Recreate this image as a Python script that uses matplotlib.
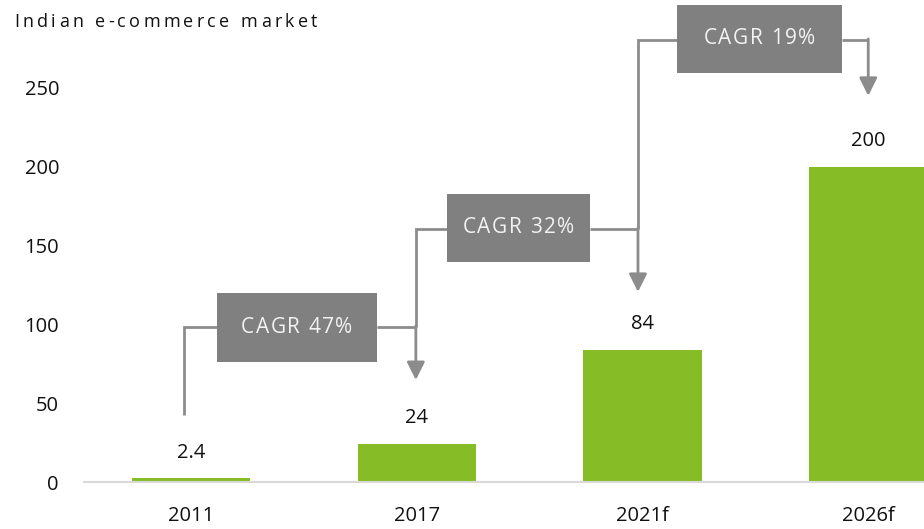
import matplotlib
matplotlib.use("Agg")
import matplotlib.pyplot as plt
from matplotlib.patches import Rectangle
from matplotlib.textpath import TextToPath
from matplotlib.font_manager import FontProperties

plt.rcParams['font.family'] = ['Open Sans', 'DejaVu Sans']

# ---- data ----
categories = ["2011", "2017", "2021f", "2026f"]
values = [2.4, 24, 84, 200]
value_labels = ["2.4", "24", "84", "200"]
cagr_labels = ["CAGR 47%", "CAGR 32%", "CAGR 19%"]
y_ticks = [0, 50, 100, 150, 200, 250]
title = "Indian e-commerce market"

# ---- styling / layout ----
GREEN = "#86bc25"
BOX = "#808080"
LINE = "#8c8c8c"
W, H = 924, 529

fig = plt.figure(figsize=(W / 100, H / 100), dpi=100)
ax = fig.add_axes([84 / W, (H - 482) / H, (W - 84) / W, 482 / H])
ax.set_xlim(-0.474, 3.247)
ax.set_ylim(0, 305.8)

t2p = TextToPath()


def width_pt(s, prop):
    w, _, _ = t2p.get_text_width_height_descent(s + "x", prop, ismath=False)
    w0, _, _ = t2p.get_text_width_height_descent("x", prop, ismath=False)
    return w - w0


def spaced_offsets(s, prop, spacing_pt):
    xs_ = [width_pt(s[:i], prop) + i * spacing_pt for i in range(len(s))]
    total = width_pt(s, prop) + (len(s) - 1) * spacing_pt
    return xs_, total


xs = list(range(len(categories)))
ax.bar(xs, values, width=0.523, color=GREEN, zorder=2)

for x, v, lab in zip(xs, values, value_labels):
    ax.annotate(lab, xy=(x, v), xytext=(0, 18.5), textcoords="offset points",
                ha="center", va="center", fontsize=14.5, color="#111111")

for s in ["top", "right", "left"]:
    ax.spines[s].set_visible(False)
ax.spines["bottom"].set_color("#d9d9d9")
ax.spines["bottom"].set_linewidth(1.5)
ax.set_xticks(xs)
ax.set_xticklabels(categories, fontsize=14.5, color="#111111")
ax.set_yticks(y_ticks)
ax.set_yticklabels([str(t) for t in y_ticks], fontsize=14.5, color="#111111")
ax.tick_params(axis="x", length=0, pad=17)
ax.tick_params(axis="y", length=0, pad=18)

# connectors: (x_from, x_to, y_line, y_start, box x0, box x1, box y0, box y1, arrow tip)
connectors = [
    (-0.03, 0.996, 98.4, 42.5, 0.115, 0.823, 76.0, 120.0, 64.7),
    (0.996, 1.98, 160.5, 98.4, 1.134, 1.767, 139.3, 183.0, 120.6),
    (1.98, 3.0, 280.5, 160.5, 2.153, 2.884, 259.5, 302.7, 245.0),
]
box_prop = FontProperties(family="Open Sans", size=15)
for (xf, xt, yl, ys, bx0, bx1, by0, by1, tip), lab in zip(connectors, cagr_labels):
    ax.plot([xf, xf, bx0], [ys, yl, yl], color=LINE, lw=2, clip_on=False,
            solid_capstyle="butt", solid_joinstyle="miter", zorder=3)
    ax.plot([bx1, xt], [yl, yl], color=LINE, lw=2, clip_on=False,
            solid_capstyle="butt", zorder=3)
    ax.annotate("", xy=(xt, tip), xytext=(xt, yl + 0.6),
                arrowprops=dict(arrowstyle="-|>", color=LINE, lw=2,
                                mutation_scale=27, shrinkA=0, shrinkB=0),
                annotation_clip=False, zorder=3)
    ax.add_patch(Rectangle((bx0, by0), bx1 - bx0, by1 - by0, facecolor=BOX,
                           edgecolor="none", clip_on=False, zorder=4))
    offs, total = spaced_offsets(lab, box_prop, 1.1)
    for ch, o in zip(lab, offs):
        ax.annotate(ch, xy=((bx0 + bx1) / 2, (by0 + by1) / 2),
                    xytext=(o - total / 2, 0), textcoords="offset points",
                    ha="left", va="center", color="#f2f2f2",
                    fontproperties=box_prop, zorder=5, annotation_clip=False)

# letter-spaced title
fs = 13
prop = FontProperties(family="Open Sans", size=fs)
x0_px, y_px = 14, 22
spacing_px = 3.3
for i, ch in enumerate(title):
    xp = x0_px + width_pt(title[:i], prop) * 100 / 72 + i * spacing_px
    fig.text(xp / W, 1 - y_px / H, ch, ha="left", va="center",
             color="#111111", fontproperties=prop)

fig.savefig("out.png", dpi=100)
